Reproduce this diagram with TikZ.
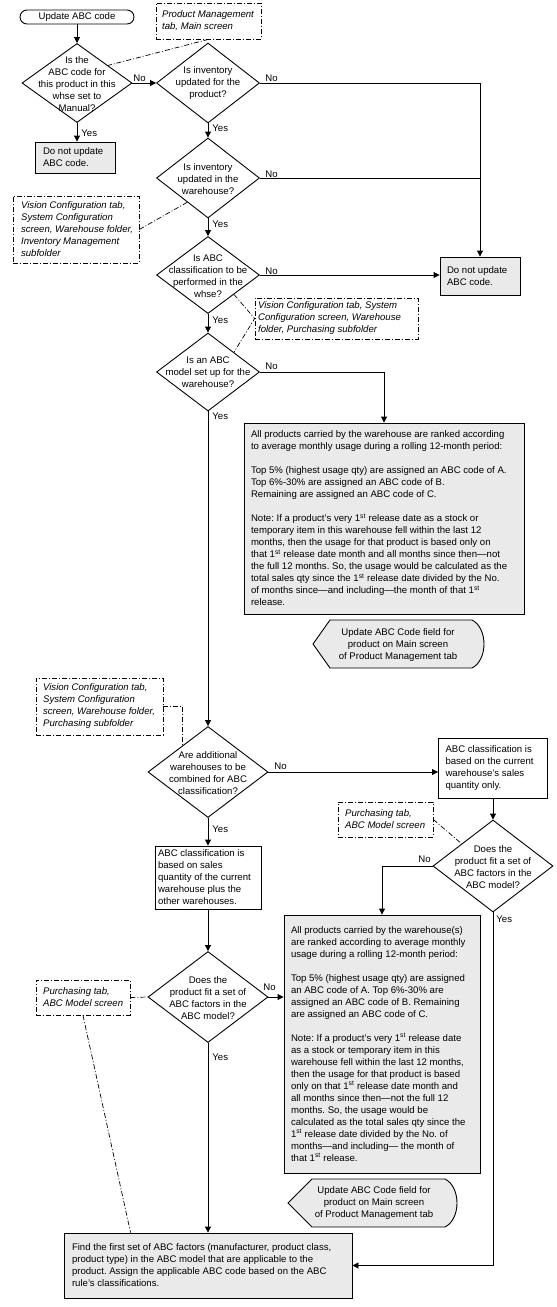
\documentclass[tikz,border=0pt]{standalone}
\usepackage{fontspec}
\setmainfont{Liberation Sans}
\usetikzlibrary{shapes.geometric,shapes.misc,arrows.meta,calc}
\definecolor{boxgray}{RGB}{234,234,234}
\newcommand{\myfs}{\fontsize{9.6}{12}\selectfont}
\newcommand{\st}{\textsuperscript{st}}
\frenchspacing
\begin{document}
\begin{tikzpicture}[x=1pt,y=-1pt,
  every path/.style={line width=0.9pt},
  dia/.style={draw, shape=diamond, inner sep=0pt},
  dtxt/.style={font=\myfs, align=center, inner sep=0pt},
  gbox/.style={draw, fill=boxgray, inner sep=0pt},
  wbox/.style={draw, fill=white, inner sep=0pt},
  btxt/.style={font=\myfs, align=left, inner sep=0pt, anchor=west},
  ntxt/.style={font=\myfs\itshape, align=left, inner sep=0pt, anchor=west},
  note/.style={draw, dash pattern=on 5pt off 2pt on 1pt off 2pt, line width=0.7pt, inner sep=0pt},
  noteline/.style={dash pattern=on 5pt off 2pt on 1pt off 2pt, line width=0.7pt},
  arr/.style={-{Triangle[length=6pt,width=6pt]}},
  lbl/.style={font=\myfs, inner sep=0pt, anchor=base west},
  term/.style={draw, shape=rounded rectangle, inner sep=0pt, font=\myfs}
]
\useasboundingbox (0,0) rectangle (557,1307);

% ---- terminator
\node[term, minimum width=114pt, minimum height=14pt] (start) at (77,17) {Update ABC code};

% ---- diamonds
\node[dia, minimum width=110pt, minimum height=79pt] (d1) at (77,83) {};
\node[dtxt] (d1t) at (77,84) {Is the\\ABC code for\\this product in this\\whse set to\\Manual?};
\node[dia, minimum width=103pt, minimum height=80pt] (d2) at (208,83) {};
\node[dtxt] (d2t) at (208,83) {Is inventory\\updated for the\\product?};
\node[dia, minimum width=103pt, minimum height=80pt] (d3) at (208,178) {};
\node[dtxt] (d3t) at (208,179) {Is inventory\\updated in the\\warehouse?};
\node[dia, minimum width=103pt, minimum height=77pt] (d4) at (208,275) {};
\node[dtxt] (d4t) at (208,276) {Is ABC\\classification to be\\performed in the\\whse?};
\node[dia, minimum width=103pt, minimum height=78pt] (d5) at (208,372) {};
\node[dtxt] (d5t) at (208,372) {Is an ABC\\model set up for the\\warehouse?};
\node[dia, minimum width=120pt, minimum height=91pt] (d6) at (208,772) {};
\node[dtxt] (d6t) at (208,773) {Are additional\\warehouses to be\\combined for ABC\\classification?};
\node[dia, minimum width=120pt, minimum height=92pt] (d7) at (493,866) {};
\node[dtxt] (d7t) at (493,867) {Does the\\product fit a set of\\ABC factors in the\\ABC model?};
\node[dia, minimum width=120pt, minimum height=91pt] (d8) at (208,997) {};
\node[dtxt] (d8t) at (208,998) {Does the\\product fit a set of\\ABC factors in the\\ABC model?};

% ---- boxes
\node[gbox, minimum width=80pt, minimum height=31pt] (b1) at (75,157.5) {};
\node[btxt] (b1t) at ($(b1.west)+(8,0)$) {Do not update\\ABC code.};
\node[gbox, minimum width=80pt, minimum height=38pt] (b2) at (480,276) {};
\node[btxt] (b2t) at ($(b2.west)+(7,0)$) {Do not update\\ABC code.};
\node[gbox, minimum width=280pt, minimum height=191pt] (big1) at (384,518.5) {};
\node[btxt] (big1t) at ($(big1.west)+(7,0)$) {All products carried by the warehouse are ranked according\\
to average monthly usage during a rolling 12-month period:\\[12pt]
Top 5\% (highest usage qty) are assigned an ABC code of A.\\
Top 6\%-30\% are assigned an ABC code of B.\\
Remaining are assigned an ABC code of C.\\[12pt]
Note: If a product’s very 1\st{} release date as a stock or\\
temporary item in this warehouse fell within the last 12\\
months, then the usage for that product is based only on\\
that 1\st{} release date month and all months since then—not\\
the full 12 months. So, the usage would be calculated as the\\
total sales qty since the 1\st{} release date divided by the No.\\
of months since—and including—the month of that 1\st\\
release.};
\node[wbox, minimum width=109pt, minimum height=60pt] (b3) at (493,768) {};
\node[btxt] (b3t) at ($(b3.west)+(7,0)$) {ABC classification is\\based on the current\\warehouse’s sales\\quantity only.};
\node[wbox, minimum width=106pt, minimum height=63pt] (b4) at (208,877.5) {};
\node[btxt] (b4t) at ($(b4.west)+(3,0)$) {ABC classification is\\based on sales\\quantity of the current\\warehouse plus the\\other warehouses.};
\node[gbox, minimum width=196pt, minimum height=258pt] (big2) at (382,1044) {};
\node[btxt] (big2t) at ($(big2.west)+(7,0)$) {All products carried by the warehouse(s)\\
are ranked according to average monthly\\
usage during a rolling 12-month period:\\[12pt]
Top 5\% (highest usage qty) are assigned\\
an ABC code of A. Top 6\%-30\% are\\
assigned an ABC code of B. Remaining\\
are assigned an ABC code of C.\\[12pt]
Note: If a product’s very 1\st{} release date\\
as a stock or temporary item in this\\
warehouse fell within the last 12 months,\\
then the usage for that product is based\\
only on that 1\st{} release date month and\\
all months since then—not the full 12\\
months. So, the usage would be\\
calculated as the total sales qty since the\\
1\st{} release date divided by the No. of\\
months—and including— the month of\\
that 1\st{} release.};
\node[gbox, minimum width=288pt, minimum height=65pt] (final) at (208,1265.5) {};
\node[btxt] (finalt) at ($(final.west)+(8,0)$) {Find the first set of ABC factors (manufacturer, product class,\\
product type) in the ABC model that are applicable to the\\
product. Assign the applicable ABC code based on the ABC\\
rule’s classifications.};

% ---- display shapes
\draw[fill=boxgray] (313,644) -- (330,620) -- (472,620) .. controls (488,628) and (488,660) .. (472,668) -- (330,668) -- cycle;
\node[dtxt] (u1) at (398,645) {Update ABC Code field for\\product on Main screen\\of Product Management tab};
\draw[fill=boxgray] (288,1203) -- (312,1179) -- (445,1179) .. controls (461,1187) and (461,1219) .. (445,1227) -- (312,1227) -- cycle;
\node[dtxt] (u2) at (374,1203) {Update ABC Code field for\\product on Main screen\\of Product Management tab};

% ---- notes
\node[note, minimum width=105pt, minimum height=36pt] (n1) at (208.5,21) {};
\node[ntxt] (n1t) at ($(n1.west)+(6,0)$) {Product Management\\tab, Main screen};
\node[note, minimum width=126pt, minimum height=67pt] (n2) at (76,229.5) {};
\node[ntxt] (n2t) at ($(n2.west)+(8,0)$) {Vision Configuration tab,\\System Configuration\\screen, Warehouse folder,\\Inventory Management\\subfolder};
\node[note, minimum width=163pt, minimum height=41pt] (n3) at (336.5,318.5) {};
\node[ntxt] (n3t) at ($(n3.west)+(3,0)$) {Vision Configuration tab, System\\Configuration screen, Warehouse\\folder, Purchasing subfolder};
\node[note, minimum width=127pt, minimum height=57pt] (n4) at (99.5,706.5) {};
\node[ntxt] (n4t) at ($(n4.west)+(7,0)$) {Vision Configuration tab,\\System Configuration\\screen, Warehouse folder,\\Purchasing subfolder};
\node[note, minimum width=95pt, minimum height=35pt] (n5) at (385.5,819.5) {};
\node[ntxt] (n5t) at ($(n5.west)+(7,0)$) {Purchasing tab,\\ABC Model screen};
\node[note, minimum width=94pt, minimum height=35pt] (n6) at (83,997.5) {};
\node[ntxt] (n6t) at ($(n6.west)+(7,0)$) {Purchasing tab,\\ABC Model screen};

% ---- connectors
\draw[arr] (start.south) -- (d1.north);
\draw[arr] (d1.east) -- (d2.west);
\draw[arr] (d1.south) -- (d1.south |- b1.north);
\draw[arr] (d2.east) -| (b2.north);
\draw (d3.east) -- (d3.east -| b2.north);
\draw[arr] (d4.east) -- (d4.east -| b2.west);
\draw[arr] (d2.south) -- (d3.north);
\draw[arr] (d3.south) -- (d4.north);
\draw[arr] (d4.south) -- (d5.north);
\draw[arr] (d5.east) -| (big1.north);
\draw[arr] (d5.south) -- (d6.north);
\draw[arr] (d6.east) -- (d6.east -| b3.west);
\draw[arr] (d6.south) -- (b4.north);
\draw[arr] (b4.south) -- (d8.north);
\draw[arr] (b3.south) -- (d7.north);
\draw[arr] (d7.west) -| (big2.north);
\draw[arr] (d7.south) |- (final.east);
\draw[arr] (d8.east) -- (d8.east -| big2.west);
\draw[arr] (d8.south) -- (final.north);

% ---- note connectors
\draw[noteline] (n1.south) -- ($(d1.north)!0.56!(d1.east)$);
\draw[noteline] (n2.east) -- ($(d3.west)!0.6!(d3.south)$);
\draw[noteline] ($(d4.east)!0.5!(d4.south)$) -- (n3.west) -- ($(d5.north)!0.5!(d5.east)$);
\draw[noteline] (n4.east) -| ($(d6.west)!0.58!(d6.north)$);
\draw[noteline] (n5.east) -- ($(d7.west)!0.48!(d7.north)$);
\draw[noteline] (n6.east) -- (d8.west);
\draw[noteline] (n6.south) -- ($(final.north west)+(67,0)$);

% ---- labels
\node[lbl] (l1n) at (133,81) {No};
\node[lbl] (l1y) at (81,136) {Yes};
\node[lbl] (l2n) at (265,81) {No};
\node[lbl] (l2y) at (212,131) {Yes};
\node[lbl] (l3n) at (265,177) {No};
\node[lbl] (l3y) at (212,227) {Yes};
\node[lbl] (l4n) at (265,274) {No};
\node[lbl] (l4y) at (212,323) {Yes};
\node[lbl] (l5n) at (265,369) {No};
\node[lbl] (l5y) at (212,419) {Yes};
\node[lbl] (l6n) at (274,769) {No};
\node[lbl] (l6y) at (212,832) {Yes};
\node[lbl] (l7n) at (418,862) {No};
\node[lbl] (l7y) at (496,922) {Yes};
\node[lbl] (l8n) at (263,990) {No};
\node[lbl] (l8y) at (212,1060) {Yes};
\end{tikzpicture}
\end{document}
